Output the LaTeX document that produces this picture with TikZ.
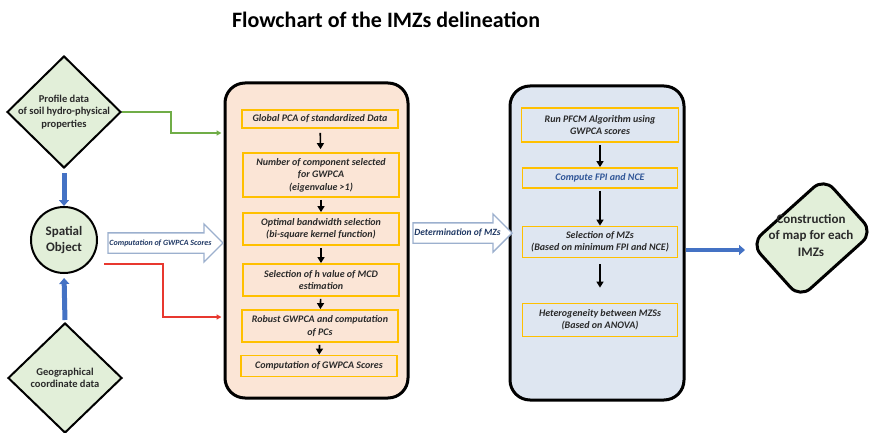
\documentclass[tikz,border=0pt]{standalone}
\usepackage{fontspec}
\setmainfont{Carlito}
\usetikzlibrary{shapes.geometric,shapes.arrows,arrows.meta}

\definecolor{leaf}{HTML}{E2EFD9}
\definecolor{peach}{HTML}{FBE5D6}
\definecolor{sky}{HTML}{DEE6F1}
\definecolor{amber}{HTML}{FFC000}
\definecolor{royal}{HTML}{4472C4}
\definecolor{navy}{HTML}{1F3864}
\definecolor{ink}{HTML}{2F5597}
\definecolor{slate}{HTML}{2A2A2A}
\definecolor{grass}{HTML}{70AD47}
\definecolor{brick}{HTML}{E8382F}
\definecolor{mist}{HTML}{9CB0CE}

\begin{document}
\begin{tikzpicture}[x=1pt,y=-1pt,
  dia/.style={shape=diamond, draw, line width=2pt, fill=leaf, inner sep=0pt},
  diatext/.style={align=center, font=\fontsize{10.5}{12.3}\selectfont\bfseries, text=slate},
  bigtext/.style={align=center, font=\fontsize{13}{16.5}\selectfont\bfseries, text=slate},
  panel/.style={shape=rectangle, rounded corners=20pt, draw, line width=3pt},
  stepbox/.style={shape=rectangle, draw=amber, line width=1.8pt, minimum width=156pt,
    align=center, inner sep=1pt, font=\fontsize{10}{12.4}\selectfont\bfseries\itshape, text=slate},
  flow/.style={-{Triangle[length=6pt,width=7pt]}, line width=1.6pt, shorten <=2pt},
  bluelink/.style={draw=royal, line width=5pt, -{Triangle[length=6pt,width=10pt]}},
  hollow/.style={shape=single arrow, draw=mist, line width=1.3pt, fill=white,
    inner sep=0pt, inner ysep=9.5pt, single arrow head extend=9pt},
  hollowtext/.style={font=\fontsize{8}{9}\selectfont\bfseries\itshape, text=navy}]
\useasboundingbox (0,0) rectangle (870,433);

\node [font=\fontsize{22}{26}\selectfont\bfseries, anchor=base] (title) at (386,28) {Flowchart of the IMZs delineation};

% inputs on the left
\node [dia, minimum width=114pt, minimum height=112pt] (PD) at (64,112) {};
\node [diatext] (PDt) at (PD) {Profile data\\of soil hydro-physical\\properties};
\node [shape=circle, draw, line width=2pt, fill=leaf, minimum size=66pt, inner sep=0pt, bigtext] (SO) at (64,240) {Spatial\\Object};
\node [dia, minimum width=114pt, minimum height=110pt] (GD) at (65,378) {};
\node [diatext] (GDt) at (GD) {Geographical\\coordinate data};

% GWPCA steps
\node [panel, fill=peach, minimum width=183pt, minimum height=315pt] (P0) at (316.5,240.5) {};
\node [stepbox, minimum height=18pt] (B1) at (320,119) {Global PCA of standardized Data};
\node [stepbox, minimum height=44pt] (B2) at (321,175) {Number of component selected\\for GWPCA\\(eigenvalue >1)};
\node [stepbox, minimum height=32pt] (B3) at (321,229) {Optimal bandwidth selection\\(bi-square kernel function)};
\node [stepbox, minimum height=32pt] (B4) at (321,280) {Selection of h value of MCD\\estimation};
\node [stepbox, minimum height=32pt] (B5) at (320,326) {Robust GWPCA and computation\\of PCs};
\node [stepbox, minimum height=21pt] (B6) at (319,366) {Computation of GWPCA Scores};

% MZ steps
\node [panel, fill=sky, minimum width=174pt, minimum height=314pt] (M0) at (597,243) {};
\node [stepbox, minimum height=34pt, minimum width=157pt] (C1) at (600,125) {Run PFCM Algorithm using\\GWPCA scores};
\node [stepbox, minimum height=20pt, minimum width=155pt, text=ink] (C2) at (600,178) {Compute FPI and NCE};
\node [stepbox, minimum height=31pt, minimum width=155pt] (C3) at (600,242) {Selection of MZs\\(Based on minimum FPI and NCE)};
\node [stepbox, minimum height=33pt, minimum width=155pt] (C4) at (600,320) {Heterogeneity between MZSs\\(Based on ANOVA)};

% output
\node [shape=rectangle, rotate=42, rounded corners=14pt, draw, line width=3pt, fill=leaf,
       minimum width=98pt, minimum height=73pt] (MAP) at (812,238) {};
\node [bigtext] (MAPt) at (811,235) {Construction\\of map for each\\IMZs};
\coordinate (mapin) at (745,250);

% hollow arrows
\node [hollow, minimum height=115pt] (CA) at (160.5,243) {};
\node [hollowtext] at (CA) {Computation of GWPCA Scores};
\node [hollow, minimum height=99pt] (DA) at (457.5,233) {};
\node [hollowtext, font=\fontsize{9.5}{11}\selectfont\bfseries\itshape] at (DA) {Determination of MZs};

\draw[bluelink, shorten <=4pt] (PD.south) -- (SO.north);
\draw[bluelink, shorten <=2pt, shorten >=4pt] (GD.north) -- (SO.south);
\draw[grass, line width=1.2pt, -{Triangle[length=5pt,width=5pt]}, shorten >=2pt] (PD.east) -- ++(49,0) |- ([yshift=107.5pt]P0.west);
\draw[brick, line width=1.2pt, -{Triangle[length=5pt,width=5pt]}, shorten >=2pt] (SO.east) ++(6,24) -- ++(59,0) |- ([yshift=-76.5pt]P0.west);

\draw[flow, shorten >=3pt, shorten <=4pt] (B1) -- (B2);
\draw[flow] (B2) -- (B3);
\draw[flow] (B3) -- (B4);
\draw[flow] (B4) -- (B5);
\draw[flow] (B5) -- (B6);

\draw[flow] (C1) -- (C2);
\draw[flow] (C2) -- (C3);
\draw[flow, shorten <=6pt, shorten >=15pt] (C3) -- (C4);

\draw[bluelink, line width=3.5pt] (M0.east |- mapin) -- (mapin);
\end{tikzpicture}
\end{document}
